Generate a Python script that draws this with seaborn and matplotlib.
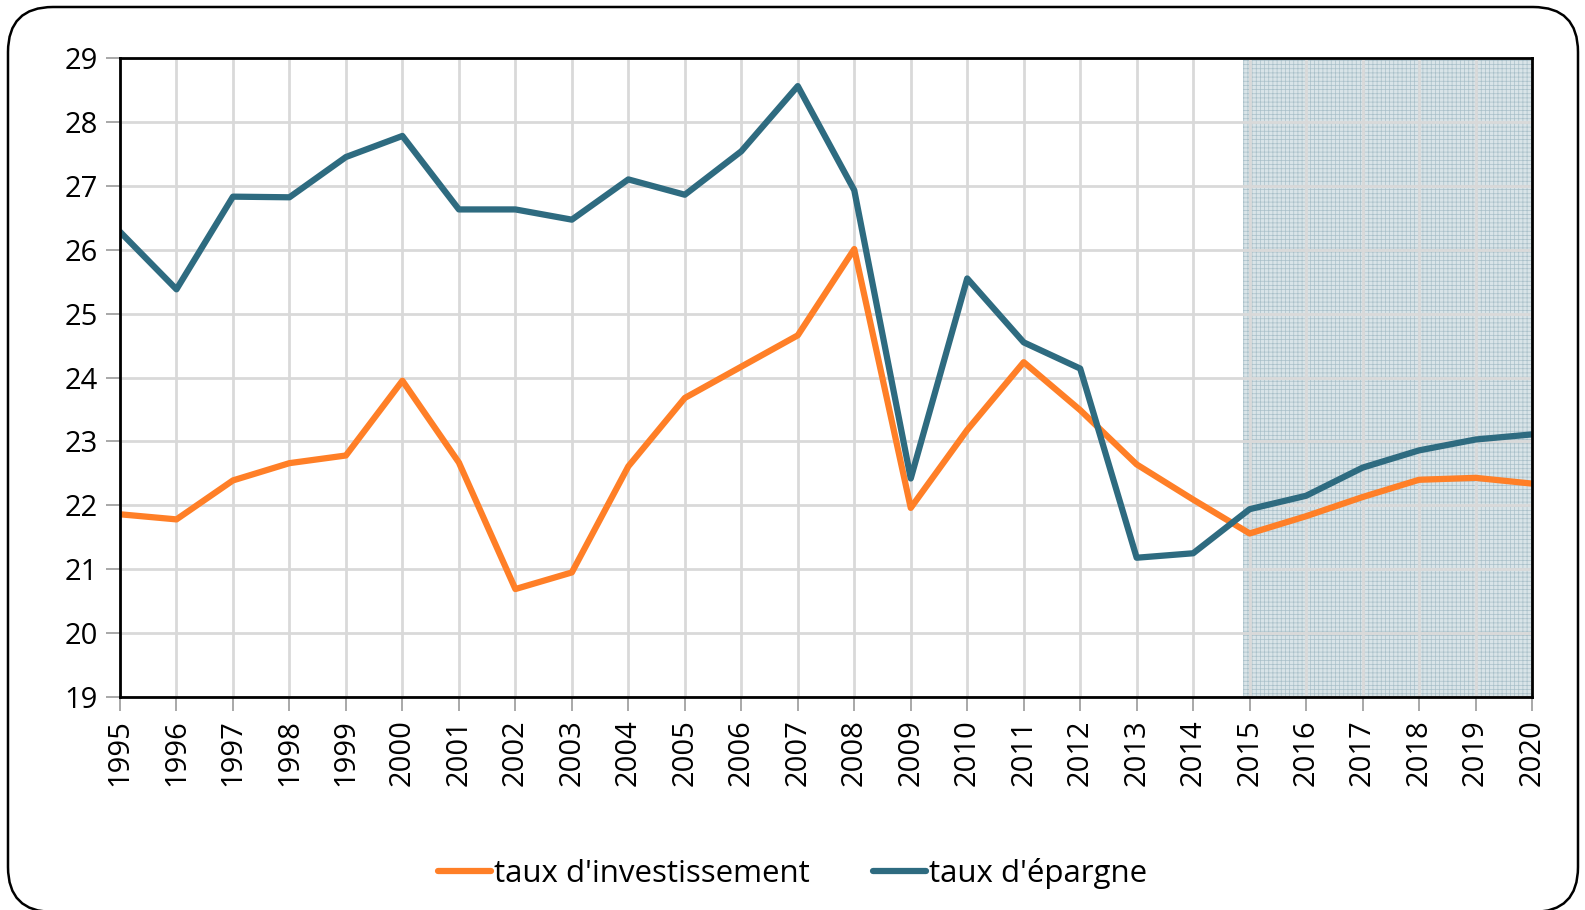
import matplotlib
matplotlib.use("Agg")
from matplotlib import pyplot as plt
from matplotlib.patches import FancyBboxPatch
import numpy as np
import pandas as pd
import seaborn as sns


YEARS = list(range(1995, 2021))
INVESTISSEMENT = [21.86, 21.78, 22.39, 22.66, 22.78, 23.95, 22.67, 20.69, 20.95, 22.61,
                  23.68, 24.17, 24.66, 26.01, 21.96, 23.18, 24.24, 23.49, 22.64, 22.09,
                  21.56, 21.83, 22.13, 22.40, 22.43, 22.34]
EPARGNE = [26.28, 25.38, 26.83, 26.82, 27.45, 27.78, 26.63, 26.63, 26.47, 27.10,
           26.86, 27.54, 28.56, 26.93, 22.42, 25.55, 24.55, 24.14, 21.18, 21.25,
           21.94, 22.15, 22.59, 22.86, 23.03, 23.11]
SERIES_NAMES = ["taux d'investissement", "taux d'épargne"]
COLORS = ["#ff7f27", "#2e6b80"]
Y_TICKS = list(range(19, 30))
FORECAST_START = 2014.88


def main():
    sns.set_style("white")
    plt.rcParams['font.family'] = ['Open Sans', 'DejaVu Sans']
    plt.rcParams['hatch.linewidth'] = 0.5
    plt.rcParams['text.color'] = 'black'
    plt.rcParams['xtick.labelcolor'] = 'black'
    plt.rcParams['ytick.labelcolor'] = 'black'

    df = pd.DataFrame({
        "annee": YEARS * 2,
        "valeur": INVESTISSEMENT + EPARGNE,
        "serie": [SERIES_NAMES[0]] * len(YEARS) + [SERIES_NAMES[1]] * len(YEARS),
    })

    fig = plt.figure(figsize=(15.85, 9.10), dpi=100)
    ax = fig.add_axes([0.0757, 0.234, 0.8909, 0.7023])

    # forecast zone
    ax.axvspan(FORECAST_START, YEARS[-1], facecolor="#d9e4e8", edgecolor="#a9c0c9",
               hatch="++++", linewidth=0, zorder=0)

    sns.lineplot(data=df, x="annee", y="valeur", hue="serie", palette=COLORS,
                 linewidth=4.5, ax=ax, zorder=3, legend=True)

    ax.set_xlim(YEARS[0], YEARS[-1])
    ax.set_ylim(Y_TICKS[0], Y_TICKS[-1])
    ax.set_xticks(YEARS)
    ax.set_xticklabels([str(y) for y in YEARS], rotation=90, fontsize=21)
    ax.set_yticks(Y_TICKS)
    ax.set_yticklabels([str(y) for y in Y_TICKS], fontsize=21)
    ax.set_xlabel("")
    ax.set_ylabel("")
    ax.grid(True, color="#d9d9d9", linewidth=2, zorder=1)
    ax.set_axisbelow(True)
    ax.tick_params(axis="both", direction="out", length=10, width=1.2, color="#999999",
                   labelcolor="black", pad=6, bottom=True, left=True)
    for side in ax.spines.values():
        side.set_color("black")
        side.set_linewidth(2)
        side.set_zorder(4)

    handles, labels = ax.get_legend_handles_labels()
    leg = ax.legend(handles, labels, loc="center", bbox_to_anchor=(0.5, 0.040),
                    bbox_transform=fig.transFigure, ncol=2, frameon=False,
                    fontsize=22.5, handlelength=1.7, handletextpad=0.1, columnspacing=2.0)
    for txt in leg.get_texts():
        txt.set_color("black")

    # rounded frame around the figure, in inches so the corners stay round
    frame = FancyBboxPatch((0.08, -0.02), 15.70, 9.05,
                           boxstyle="round,pad=0,rounding_size=0.45",
                           transform=fig.dpi_scale_trans, facecolor="none",
                           edgecolor="black", linewidth=1.8)
    fig.patches.append(frame)

    fig.savefig("out.png", dpi=100)


if __name__ == "__main__":
    main()
